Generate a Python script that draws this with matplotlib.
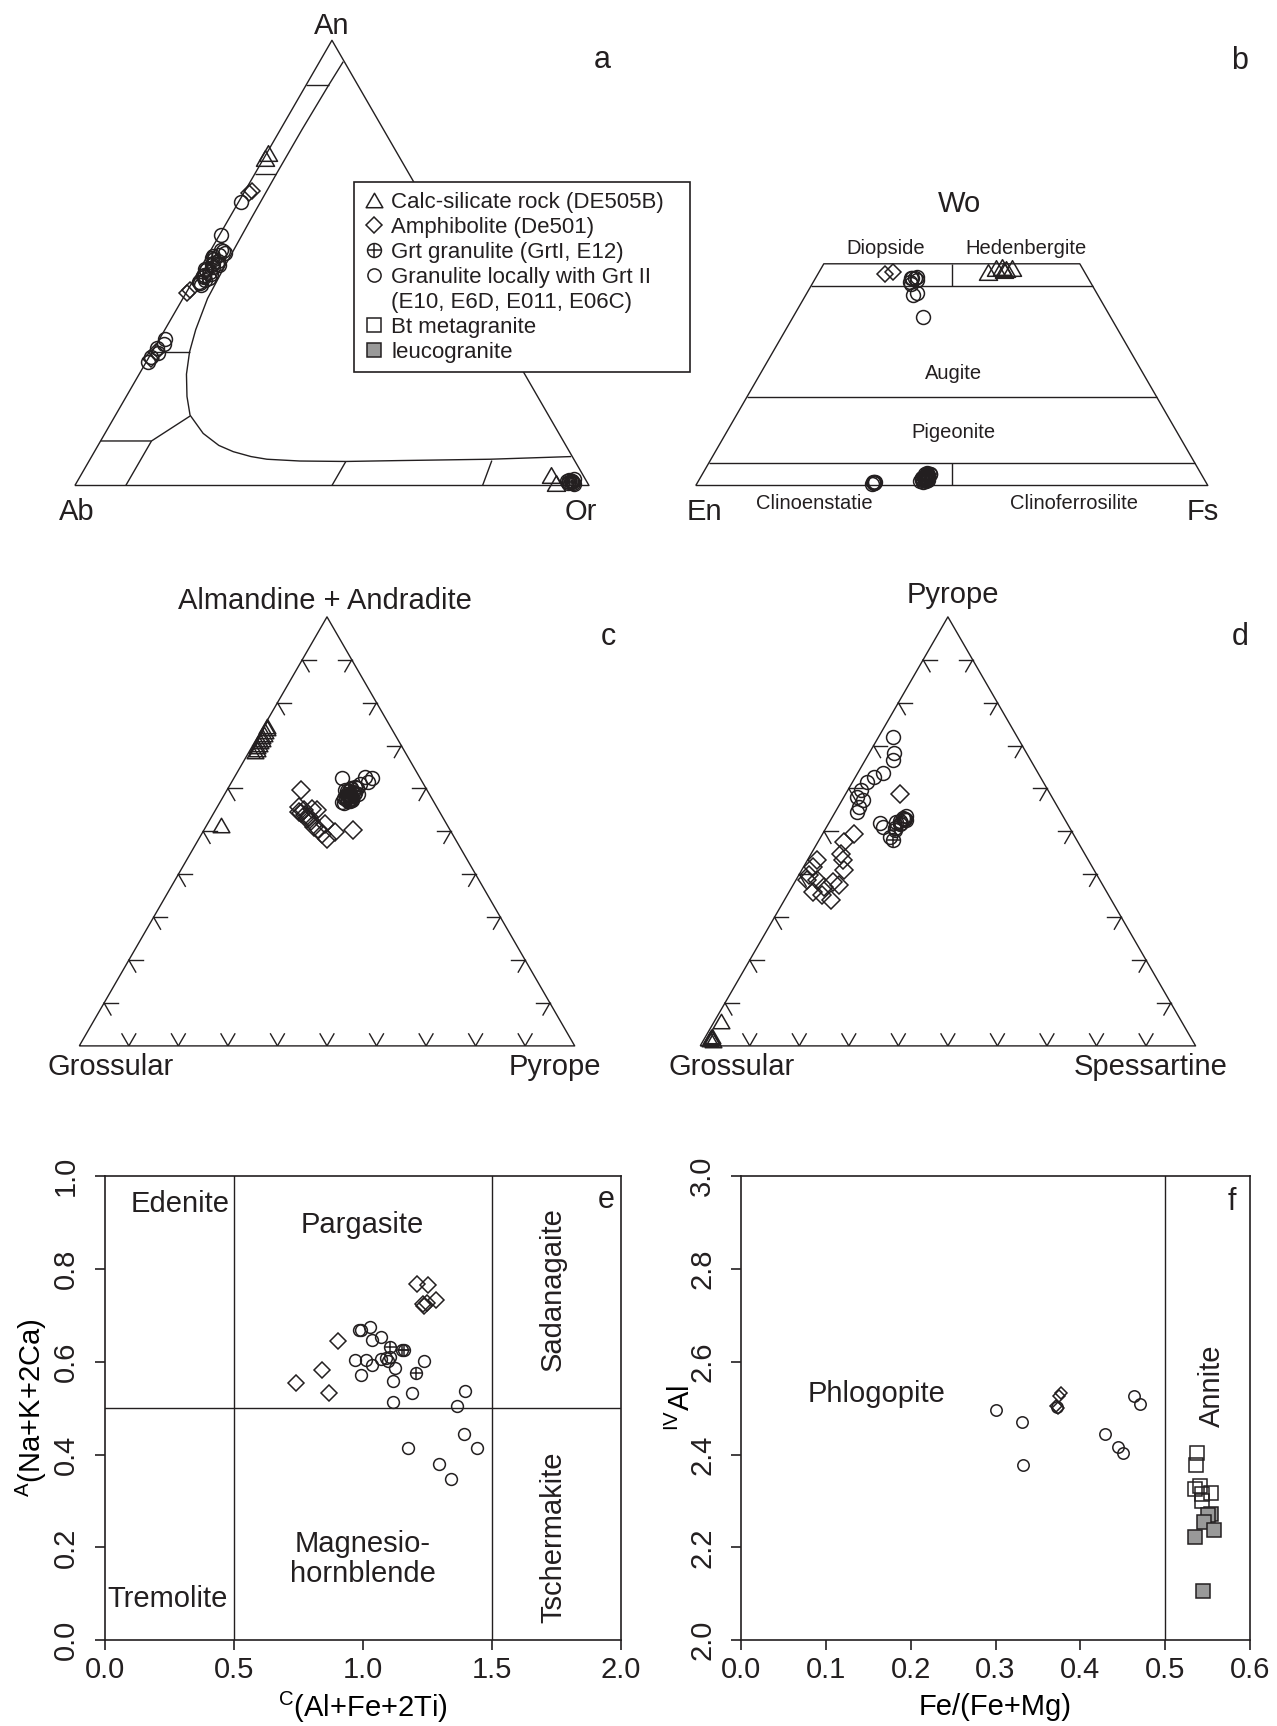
import numpy as np
import matplotlib
matplotlib.use('Agg')
from matplotlib import pyplot as plt
from matplotlib.lines import Line2D
from matplotlib.path import Path

INK = '#231f20'
GREY = '#999999'

plt.rcParams['font.family'] = ['Liberation Sans', 'DejaVu Sans']
plt.rcParams['mathtext.fontset'] = 'custom'
plt.rcParams['mathtext.rm'] = 'Liberation Sans'
plt.rcParams['mathtext.it'] = 'Liberation Sans:italic'
plt.rcParams['mathtext.bf'] = 'Liberation Sans:bold'
plt.rcParams['text.color'] = INK
plt.rcParams['xtick.color'] = INK
plt.rcParams['ytick.color'] = INK

# ---------------- a: feldspar, (An, Or) fractions ----------------
a_tri_an = [0.746, 0.736, 0.024, 0.006]
a_tri_or = [0.003, 0.002, 0.915, 0.932]
a_dia_an = [0.656, 0.662, 0.432, 0.440, 0.300, 0.285]
a_dia_or = [0.010, 0.014, 0.002, 0.004, 0.008, 0.005]
a_grt_an = [0.510, 0.470, 0.495, 0.010, 0.006, 0.008]
a_grt_or = [0.012, 0.015, 0.020, 0.962, 0.966, 0.958]
a_cir_an = [0.637, 0.563, 0.530, 0.522, 0.515, 0.505, 0.500, 0.495, 0.487,
            0.480, 0.472, 0.465, 0.458, 0.450, 0.526, 0.518, 0.508, 0.498,
            0.490, 0.483, 0.476, 0.468, 0.462, 0.455,
            0.330, 0.318, 0.308, 0.298, 0.288, 0.278,
            0.012, 0.008, 0.004, 0.010, 0.006, 0.014, 0.009]
a_cir_or = [0.005, 0.003, 0.020, 0.030, 0.012, 0.025, 0.018, 0.032, 0.010,
            0.022, 0.015, 0.028, 0.012, 0.020, 0.026, 0.022, 0.016, 0.028,
            0.024, 0.014, 0.026, 0.018, 0.022, 0.016,
            0.010, 0.014, 0.006, 0.012, 0.004, 0.003,
            0.955, 0.962, 0.968, 0.960, 0.957, 0.964, 0.952]

# solvus and field boundaries
solvus_an = [0.952, 0.90, 0.80, 0.70, 0.60, 0.50, 0.42, 0.35, 0.30, 0.25,
             0.20, 0.158, 0.117, 0.090, 0.076, 0.065, 0.059, 0.055, 0.054,
             0.056, 0.059, 0.065]
solvus_or = [0.046, 0.044, 0.042, 0.042, 0.043, 0.045, 0.048, 0.060, 0.073,
             0.092, 0.118, 0.145, 0.191, 0.235, 0.270, 0.310, 0.344, 0.410,
             0.500, 0.604, 0.778, 0.933]
a_fields = [([0.9, 0.9], [0.0, 0.044]),
            ([0.7, 0.7], [0.0, 0.042]),
            ([0.3, 0.3], [0.0, 0.073]),
            ([0.1, 0.1, 0.156], [0.0, 0.099, 0.146]),
            ([0.1, 0.0], [0.099, 0.099]),
            ([0.0, 0.054], [0.5, 0.5]),
            ([0.0, 0.056], [0.793, 0.783])]

# ---------------- b: pyroxene, (Wo, Fs) fractions ----------------
b_dia_wo = [0.478, 0.481]
b_dia_fs = [0.130, 0.144]
b_tri_wo = [0.482, 0.490, 0.493, 0.489, 0.490, 0.486]
b_tri_fs = [0.330, 0.341, 0.351, 0.362, 0.372, 0.359]
b_cir_wo = [0.467, 0.467, 0.471, 0.460, 0.464, 0.469, 0.455, 0.434, 0.430,
            0.381,
            0.008, 0.005, 0.007, 0.004, 0.009, 0.006,
            0.010, 0.016, 0.022, 0.028, 0.014, 0.020, 0.026, 0.012, 0.018,
            0.024, 0.008, 0.015, 0.021, 0.027, 0.011, 0.017, 0.023, 0.013,
            0.019, 0.025]
b_cir_fs = [0.188, 0.194, 0.196, 0.188, 0.200, 0.185, 0.192, 0.215, 0.210,
            0.254,
            0.343, 0.345, 0.347, 0.342, 0.344, 0.346,
            0.432, 0.434, 0.436, 0.438, 0.440, 0.442, 0.444, 0.446, 0.437,
            0.441, 0.439, 0.435, 0.443, 0.439, 0.445, 0.433, 0.441, 0.447,
            0.438, 0.436]
b_grt_wo = [0.018, 0.012, 0.026, 0.015]
b_grt_fs = [0.440, 0.436, 0.444, 0.442]

# ---------------- c: garnet, (Alm+Adr, Prp) fractions ----------------
c_tri_t = [0.745, 0.740, 0.734, 0.728, 0.722, 0.716, 0.710, 0.704, 0.698,
           0.692, 0.688, 0.514]
c_tri_r = [0.006, 0.008, 0.007, 0.009, 0.008, 0.010, 0.009, 0.011, 0.010,
           0.012, 0.011, 0.029]
c_dia_t = [0.596, 0.557, 0.549, 0.553, 0.542, 0.534, 0.549, 0.510, 0.495,
           0.483, 0.499, 0.503, 0.518, 0.530, 0.545, 0.538, 0.525, 0.505]
c_dia_r = [0.150, 0.165, 0.180, 0.193, 0.177, 0.196, 0.206, 0.219, 0.242,
           0.258, 0.266, 0.301, 0.237, 0.194, 0.170, 0.186, 0.205, 0.230]
c_cir_t = [0.624, 0.588, 0.604, 0.627, 0.624, 0.616, 0.565, 0.573, 0.588,
           0.596, 0.580, 0.570, 0.600, 0.590, 0.578, 0.610, 0.585,
           0.568, 0.575, 0.582, 0.592, 0.598, 0.572, 0.580, 0.587, 0.594,
           0.602, 0.576, 0.584]
c_cir_r = [0.218, 0.247, 0.254, 0.264, 0.278, 0.274, 0.251, 0.263, 0.269,
           0.239, 0.255, 0.258, 0.248, 0.262, 0.245, 0.262, 0.252,
           0.246, 0.250, 0.258, 0.256, 0.250, 0.256, 0.249, 0.261, 0.244,
           0.259, 0.262, 0.254]
c_grt_t = [0.585, 0.575, 0.595, 0.570]
c_grt_r = [0.250, 0.258, 0.246, 0.262]

# ---------------- d: garnet, (Prp, Sps) fractions ----------------
d_tri_t = [0.058, 0.022, 0.018, 0.016, 0.020, 0.014]
d_tri_r = [0.012, 0.013, 0.015, 0.012, 0.011, 0.018]
d_dia_t = [0.588, 0.495, 0.475, 0.448, 0.433, 0.409, 0.433, 0.417, 0.398,
           0.386, 0.386, 0.370, 0.382, 0.374, 0.359, 0.351, 0.339]
d_dia_r = [0.109, 0.062, 0.053, 0.060, 0.071, 0.086, 0.019, 0.019, 0.021,
           0.023, 0.042, 0.065, 0.078, 0.093, 0.049, 0.071, 0.095]
d_cir_t = [0.721, 0.682, 0.666, 0.637, 0.627, 0.616, 0.596, 0.581, 0.573,
           0.557, 0.546, 0.520, 0.532, 0.518, 0.507, 0.487, 0.510, 0.528,
           0.522, 0.530, 0.526, 0.535, 0.524]
d_cir_r = [0.028, 0.051, 0.057, 0.050, 0.037, 0.028, 0.027, 0.027, 0.042,
           0.042, 0.044, 0.103, 0.144, 0.144, 0.139, 0.140, 0.114, 0.150,
           0.135, 0.146, 0.152, 0.148, 0.142]
d_grt_t = [0.479, 0.503, 0.520]
d_grt_r = [0.149, 0.141, 0.146]

# ---------------- e: amphibole ----------------
e_cir_x = [0.986, 0.994, 1.029, 1.033, 1.068, 0.970, 1.013, 1.036, 0.994,
           1.068, 1.089, 1.097, 1.105, 1.125, 1.116, 1.117, 1.236, 1.189,
           1.173, 1.295, 1.342, 1.366, 1.395, 1.390, 1.440]
e_cir_y = [0.667, 0.667, 0.675, 0.647, 0.652, 0.603, 0.603, 0.593, 0.571,
           0.606, 0.607, 0.602, 0.610, 0.586, 0.559, 0.512, 0.602, 0.532,
           0.414, 0.380, 0.347, 0.504, 0.537, 0.444, 0.414]
e_grt_x = [1.105, 1.152, 1.160, 1.204]
e_grt_y = [0.631, 0.625, 0.625, 0.575]
e_dia_x = [1.211, 1.252, 1.231, 1.247, 1.284, 1.236, 0.903, 0.843, 0.740, 0.868]
e_dia_y = [0.766, 0.764, 0.723, 0.727, 0.733, 0.719, 0.645, 0.581, 0.554, 0.533]

# ---------------- f: biotite ----------------
f_cir_x = [0.301, 0.331, 0.332, 0.429, 0.444, 0.450, 0.463, 0.470, 0.373]
f_cir_y = [2.495, 2.470, 2.378, 2.444, 2.417, 2.403, 2.525, 2.508, 2.502]
f_dia_x = [0.377, 0.375, 0.371, 0.374]
f_dia_y = [2.533, 2.525, 2.505, 2.500]
f_bt_x = [0.537, 0.536, 0.535, 0.541, 0.543, 0.554, 0.544]
f_bt_y = [2.403, 2.378, 2.326, 2.332, 2.315, 2.317, 2.300]
f_leu_x = [0.554, 0.550, 0.546, 0.557, 0.535, 0.545]
f_leu_y = [2.272, 2.270, 2.255, 2.238, 2.223, 2.107]

legend_labels = ['Calc-silicate rock (DE505B)', 'Amphibolite (De501)',
                 'Grt granulite (GrtI, E12)', 'Granulite locally with Grt II',
                 '(E10, E6D, E011, E06C)', 'Bt metagranite', 'leucogranite']

W, H = 1277, 1726
SQ3 = np.sqrt(3) / 2
FS = 21
MEW = 1.1
TRI = Path([(0, 0.433), (-0.5, -0.433), (0.5, -0.433), (0, 0)], closed=True)


def xy(top, right):
    top = np.asarray(top, float)
    right = np.asarray(right, float)
    return right + top / 2, top * SQ3


def line(ax, top, right, lw=1.0):
    x, y = xy(top, right)
    ax.plot(x, y, color=INK, lw=lw, clip_on=False, solid_capstyle='butt')


def marks(ax, x, y, kind, ms):
    kw = dict(ls='none', mec=INK, mew=MEW, clip_on=False)
    if kind == 'tri':
        ax.plot(x, y, marker=TRI, ms=ms, mfc='none', **kw)
    elif kind == 'dia':
        ax.plot(x, y, marker='D', ms=ms, mfc='none', **kw)
    elif kind == 'cir':
        ax.plot(x, y, marker='o', ms=ms, mfc='none', **kw)
    elif kind == 'grt':
        ax.plot(x, y, marker='o', ms=ms, mfc='none', **kw)
        ax.plot(x, y, marker='+', ms=ms, **kw)
    elif kind == 'bt':
        ax.plot(x, y, marker='s', ms=ms, mfc='none', **kw)
    elif kind == 'leu':
        ax.plot(x, y, marker='s', ms=ms, mfc=GREY, **kw)


def tern_marks(ax, top, right, kind, ms):
    x, y = xy(top, right)
    marks(ax, x, y, kind, ms)


def tern_axes(x0, y0, side):
    ax = fig.add_axes([x0 / W, 1 - y0 / H, side / W, side * SQ3 / H])
    ax.set_xlim(0, 1)
    ax.set_ylim(0, SQ3)
    ax.axis('off')
    return ax


def edge_ticks(ax, n=0.028):
    for f in np.arange(1, 10) / 10:
        ends = [((f, 0), (-0.5, SQ3)), ((f, 0), (0.5, SQ3)),
                ((0.5 * f, SQ3 * f), (1, 0)), ((0.5 * f, SQ3 * f), (0.5, -SQ3)),
                ((1 - 0.5 * f, SQ3 * f), (-1, 0)), ((1 - 0.5 * f, SQ3 * f), (-0.5, -SQ3))]
        for (px, py), (dx, dy) in ends:
            ax.plot([px, px + dx * n], [py, py + dy * n], color=INK, lw=1.0)


def label(ax, u, v, s, size=FS, **kw):
    ax.text(u, v, s, ha='center', va='center', fontsize=size, **kw)


fig = plt.figure(figsize=(W / 100, H / 100), dpi=100)

# ---- a ----
ax = tern_axes(74.9, 485.5, 514.1)
line(ax, [0, 0, 1, 0], [0, 1, 0, 0])
line(ax, solvus_an, solvus_or)
for an, orr in a_fields:
    line(ax, an, orr)
tern_marks(ax, a_cir_an, a_cir_or, 'cir', 10)
tern_marks(ax, a_grt_an, a_grt_or, 'grt', 10)
tern_marks(ax, a_dia_an, a_dia_or, 'dia', 8)
tern_marks(ax, a_tri_an, a_tri_or, 'tri', 13)
label(ax, 0.5, 0.893, 'An')
label(ax, 0.004, -0.052, 'Ab')
label(ax, 0.985, -0.052, 'Or')
label(ax, 1.026, 0.827, 'a', size=22)

handles = [Line2D([], [], ls='none', marker=TRI, ms=12, mfc='none', mec=INK, mew=MEW),
           Line2D([], [], ls='none', marker='D', ms=8, mfc='none', mec=INK, mew=MEW),
           (Line2D([], [], ls='none', marker='o', ms=10, mfc='none', mec=INK, mew=MEW),
            Line2D([], [], ls='none', marker='+', ms=10, mec=INK, mew=MEW)),
           Line2D([], [], ls='none', marker='o', ms=9.5, mfc='none', mec=INK, mew=MEW),
           Line2D([], [], ls='none'),
           Line2D([], [], ls='none', marker='s', ms=10, mfc='none', mec=INK, mew=MEW),
           Line2D([], [], ls='none', marker='s', ms=10, mfc=GREY, mec=INK, mew=MEW)]
leg = fig.legend(handles, legend_labels, loc='upper left',
                 bbox_to_anchor=(354 / W, 1 - 373.3 / H, 336 / W, 191 / H),
                 mode='expand', borderaxespad=0, fontsize=16, frameon=True,
                 fancybox=False, framealpha=1, edgecolor=INK, borderpad=0.42,
                 handlelength=0.95, handletextpad=0.31, labelspacing=0.18)
leg.get_frame().set_linewidth(1.2)

# ---- b ----
ax = tern_axes(695.8, 485.5, 512)
line(ax, [0, 0, 0.5, 0.5, 0], [0, 1, 0.5, 0, 0])
for wo in (0.45, 0.2, 0.05):
    line(ax, [wo, wo], [0, 1 - wo])
line(ax, [0.45, 0.5], [0.275, 0.25])
line(ax, [0.0, 0.05], [0.5, 0.475])
tern_marks(ax, b_cir_wo, b_cir_fs, 'cir', 10)
tern_marks(ax, b_grt_wo, b_grt_fs, 'grt', 10)
tern_marks(ax, b_dia_wo, b_dia_fs, 'dia', 8)
tern_marks(ax, b_tri_wo, b_tri_fs, 'tri', 13)
label(ax, 0.516, 0.549, 'Wo')
label(ax, 0.017, -0.052, 'En')
label(ax, 0.99, -0.052, 'Fs')
label(ax, 0.370, 0.463, 'Diopside', size=14.5)
label(ax, 0.644, 0.463, 'Hedenbergite', size=14.5)
label(ax, 0.503, 0.219, 'Augite', size=14.5)
label(ax, 0.503, 0.103, 'Pigeonite', size=14.5)
label(ax, 0.232, -0.036, 'Clinoenstatie', size=14.5)
label(ax, 0.739, -0.036, 'Clinoferrosilite', size=14.5)
label(ax, 1.062, 0.83, 'b', size=22)

# ---- c ----
ax = tern_axes(79.3, 1045.9, 495.4)
line(ax, [0, 0, 1, 0], [0, 1, 0, 0])
edge_ticks(ax)
tern_marks(ax, c_cir_t, c_cir_r, 'cir', 10)
tern_marks(ax, c_grt_t, c_grt_r, 'grt', 10)
tern_marks(ax, c_dia_t, c_dia_r, 'dia', 9)
tern_marks(ax, c_tri_t, c_tri_r, 'tri', 12)
label(ax, 0.496, 0.898, 'Almandine + Andradite')
label(ax, 0.064, -0.043, 'Grossular')
label(ax, 0.959, -0.043, 'Pyrope')
label(ax, 1.067, 0.825, 'c', size=22)

# ---- d ----
ax = tern_axes(700.2, 1045.9, 495.4)
line(ax, [0, 0, 1, 0], [0, 1, 0, 0])
edge_ticks(ax)
tern_marks(ax, d_cir_t, d_cir_r, 'cir', 10)
tern_marks(ax, d_grt_t, d_grt_r, 'grt', 10)
tern_marks(ax, d_dia_t, d_dia_r, 'dia', 9)
tern_marks(ax, d_tri_t, d_tri_r, 'tri', 12)
label(ax, 0.511, 0.911, 'Pyrope')
label(ax, 0.064, -0.043, 'Grossular')
label(ax, 0.910, -0.043, 'Spessartine')
label(ax, 1.089, 0.825, 'd', size=22)


def frame(ax, xlim, ylim, xt, yt, fmt='%.1f'):
    ax.set_xlim(*xlim)
    ax.set_ylim(*ylim)
    for s in ax.spines.values():
        s.set_linewidth(1.2)
        s.set_color(INK)
    ax.set_xticks(xt)
    ax.set_yticks(yt)
    ax.set_xticklabels([fmt % v for v in xt])
    ax.set_yticklabels([fmt % v for v in yt], rotation=90, va='center')
    ax.tick_params(direction='out', length=7, width=1.2, labelsize=FS)
    ax.tick_params(axis='x', pad=4)
    ax.tick_params(axis='y', pad=11)


# ---- e ----
ax = fig.add_axes([105 / W, 1 - 1640.3 / H, 516 / W, 464.5 / H])
frame(ax, (0, 2), (0, 1), [0, 0.5, 1.0, 1.5, 2.0], [0, 0.2, 0.4, 0.6, 0.8, 1.0])
ax.axvline(0.5, color=INK, lw=1.0)
ax.axvline(1.5, color=INK, lw=1.0)
ax.axhline(0.5, color=INK, lw=1.0)
marks(ax, e_cir_x, e_cir_y, 'cir', 8.5)
marks(ax, e_grt_x, e_grt_y, 'grt', 8.5)
marks(ax, e_dia_x, e_dia_y, 'dia', 8)
ax.text(0.293, 0.94, 'Edenite', ha='center', va='center', fontsize=FS)
ax.text(0.998, 0.894, 'Pargasite', ha='center', va='center', fontsize=FS)
ax.text(1.736, 0.756, 'Sadanagaite', ha='center', va='center', fontsize=FS, rotation=90)
ax.text(1.736, 0.221, 'Tschermakite', ha='center', va='center', fontsize=FS, rotation=90)
ax.text(0.244, 0.089, 'Tremolite', ha='center', va='center', fontsize=FS)
ax.text(1.0, 0.175, 'Magnesio-\nhornblende', ha='center', va='center', fontsize=FS,
        linespacing=1.1)
ax.text(1.944, 0.948, 'e', ha='center', va='center', fontsize=22)
ax.set_xlabel(r'$^{\mathrm{C}}$(Al+Fe+2Ti)', fontsize=FS, va='center')
ax.xaxis.set_label_coords(0.5, -67 / 464.5)
ax.set_ylabel(r'$^{\mathrm{A}}$(Na+K+2Ca)', fontsize=FS, va='center')
ax.yaxis.set_label_coords(-74 / 516, 0.5)

# ---- f ----
ax = fig.add_axes([741 / W, 1 - 1640.3 / H, 509 / W, 464.5 / H])
frame(ax, (0, 0.6), (2, 3), [0, 0.1, 0.2, 0.3, 0.4, 0.5, 0.6],
      [2.0, 2.2, 2.4, 2.6, 2.8, 3.0])
ax.axvline(0.5, color=INK, lw=1.0)
marks(ax, f_cir_x, f_cir_y, 'cir', 8.2)
marks(ax, f_dia_x, f_dia_y, 'dia', 6)
marks(ax, f_bt_x, f_bt_y, 'bt', 10)
marks(ax, f_leu_x, f_leu_y, 'leu', 10)
ax.text(0.16, 2.53, 'Phlogopite', ha='center', va='center', fontsize=FS)
ax.text(0.555, 2.547, 'Annite', ha='center', va='center', fontsize=FS, rotation=90)
ax.text(0.579, 2.944, 'f', ha='center', va='center', fontsize=22)
ax.set_xlabel('Fe/(Fe+Mg)', fontsize=FS, va='center')
ax.xaxis.set_label_coords(0.5, -67 / 464.5)
ax.set_ylabel(r'$^{\mathrm{IV}}$Al', fontsize=FS, va='center')
ax.yaxis.set_label_coords(-60 / 509, 0.5)

fig.savefig('out.png', dpi=100, facecolor='white')
